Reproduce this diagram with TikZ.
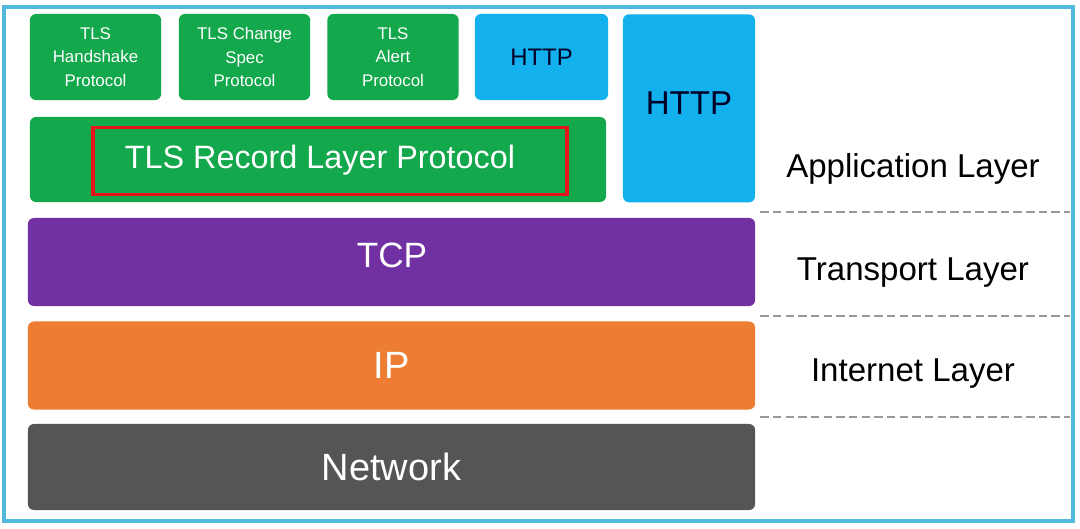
\documentclass[tikz,border=0pt]{standalone}
\usepackage{fontspec}
\setmainfont{Liberation Sans}
\usetikzlibrary{positioning, calc}

\definecolor{tlsgreen}{HTML}{14A84C}
\definecolor{httpblue}{HTML}{13B0EE}
\definecolor{tcppurple}{HTML}{7231A2}
\definecolor{iporange}{HTML}{EC7D32}
\definecolor{netgray}{HTML}{555555}
\definecolor{framecyan}{HTML}{52B9DA}
\definecolor{markred}{HTML}{E8141B}

\begin{document}
\begin{tikzpicture}[
        x=0.025cm, y=-0.025cm,
        layer/.style={rounded corners=1.5mm, inner sep=0pt, align=center, minimum height=2.2cm, text=white},
        tlsbox/.style={layer, fill=tlsgreen, minimum width=3.28cm, minimum height=2.15cm, font=\fontsize{12}{16.5}\selectfont},
        httpbox/.style={layer, fill=httpblue, text=black!85!blue},
        stackbox/.style={layer, minimum width=18.175cm, font=\fontsize{27}{30}\selectfont},
        layername/.style={font=\fontsize{23.5}{26}\selectfont, text=black},
        sep/.style={dashed, dash pattern=on 6pt off 3pt, draw=black!40, line width=0.8pt}
    ]
    \useasboundingbox (0,0) rectangle (1080,528);
    \fill[white] (0,0) rectangle (1080,528);
    \draw[framecyan, line width=2.6pt] (4,7) rectangle (1073,521);

    % Nodes
    \node[tlsbox] (handshake) at (95.5,57) {TLS\\Handshake\\Protocol};
    \node[tlsbox] (changespec) at (244.5,57) {TLS Change\\Spec\\Protocol};
    \node[tlsbox] (alert) at (393,57) {TLS\\Alert\\Protocol};
    \node[httpbox, minimum width=3.33cm, minimum height=2.15cm, font=\fontsize{17}{20}\selectfont] (httpsmall) at (541.5,57) {HTTP};
    \node[layer, fill=tlsgreen, minimum width=14.4cm, minimum height=2.125cm] (record) at (318,159.5) {};
    \node[draw=markred, line width=2.8pt, minimum width=11.85cm, minimum height=1.675cm, inner sep=0pt] (redmark) at (330,161) {};
    \node[text=white, font=\fontsize{23}{26}\selectfont] (recordtext) at (320,160) {TLS Record Layer Protocol};
    \node[httpbox, minimum width=3.3cm, minimum height=4.7cm, anchor=north] (httpbig) at (689,14) {};
    \node[text=black!85!blue, font=\fontsize{23.5}{26}\selectfont] (httpbigtext) at (689,103) {HTTP};
    \node[stackbox, fill=tcppurple] (tcp) at (391.5,262) {};
    \node[text=white, font=\fontsize{25}{28}\selectfont] (tcptext) at (392,255) {TCP};
    \node[stackbox, fill=iporange] (ip) at (391.5,365.5) {IP};
    \node[stackbox, fill=netgray, minimum height=2.15cm] (net) at (391.5,467) {Network};

    % Layer names
    \node[layername] (applayer) at (913,169) {Application Layer};
    \node[layername] (translayer) at (913,273) {Transport Layer};
    \node[layername] (netlayer) at (913,374) {Internet Layer};

    % Separators
    \coordinate (s1) at (1070,212);
    \coordinate (s2) at (1070,316);
    \coordinate (s3) at (1070,417);
    \draw[sep] (httpbig.east |- s1) ++(5,0) -- (s1);
    \draw[sep] (tcp.east |- s2) ++(5,0) -- (s2);
    \draw[sep] (ip.east |- s3) ++(5,0) -- (s3);
\end{tikzpicture}
\end{document}
